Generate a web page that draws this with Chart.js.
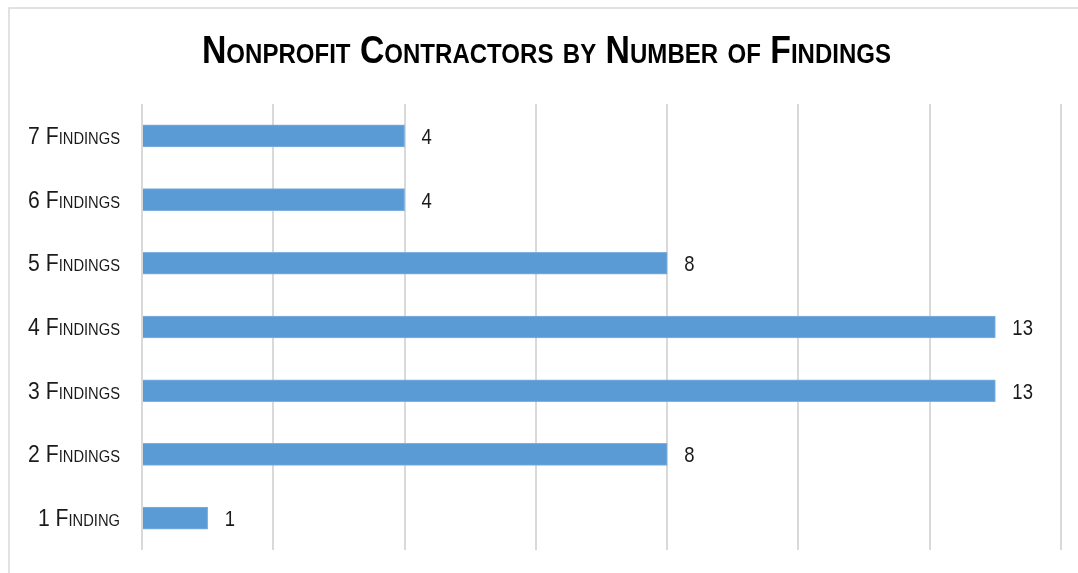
<!DOCTYPE html>
<html>
<head>
<meta charset="utf-8">
<script src="https://cdn.jsdelivr.net/npm/chart.js@4"></script>
<style>
  html, body { margin: 0; padding: 0; background: #fff; }
  #wrap { width: 1078px; height: 573px; }
</style>
</head>
<body>
<div id="wrap"><canvas id="myChart"></canvas></div>
<script>
const categories = ['7 Findings', '6 Findings', '5 Findings', '4 Findings', '3 Findings', '2 Findings', '1 Finding'];
const contractors = [4, 4, 8, 13, 13, 8, 1];
const xTicks = [0, 2, 4, 6, 8, 10, 12, 14];
const chartTitle = 'Nonprofit Contractors by Number of Findings';

const family = "'Liberation Sans', Arial, sans-serif";

// no narrow font installed, so squeeze text horizontally
function narrowText(c, text, x, y, align, font, squeeze) {
  c.save();
  c.font = font;
  c.textAlign = align;
  c.textBaseline = 'alphabetic';
  c.translate(x, y);
  c.scale(squeeze, 1);
  c.fillText(text, 0, 0);
  c.restore();
}

// light grey frame around the chart
const frame = {
  id: 'frame',
  beforeDraw(chart) {
    const c = chart.ctx;
    c.save();
    c.strokeStyle = '#d9d9d9';
    c.lineWidth = 1.5;
    c.strokeRect(9, 8, chart.width + 20, chart.height + 20);
    c.restore();
  }
};

// title, category labels and bar values
const texts = {
  id: 'texts',
  afterDraw(chart) {
    const c = chart.ctx;
    c.fillStyle = '#000';
    narrowText(c, chartTitle, (chart.chartArea.left + chart.chartArea.right) / 2 - 55, 63, 'center',
      'small-caps bold 38px ' + family, 0.89);

    const yScale = chart.scales.y;
    c.fillStyle = '#1a1a1a';
    yScale.ticks.forEach((t, i) => {
      const y = yScale.getPixelForTick(i);
      narrowText(c, chart.data.labels[t.value], yScale.right - 22, y + 8, 'right',
        'small-caps normal 23px ' + family, 0.92);
    });

    const meta = chart.getDatasetMeta(0);
    meta.data.forEach((bar, i) => {
      narrowText(c, String(contractors[i]), bar.x + 17, bar.y + 8, 'left', 'normal 22px ' + family, 0.84);
    });
  }
};

const ctx = document.getElementById('myChart');

new Chart(ctx, {
  type: 'bar',
  data: {
    labels: categories,
    datasets: [{
      data: contractors,
      backgroundColor: '#5b9bd5',
      borderColor: '#7fb0de',
      borderWidth: 1,
      barThickness: 22
    }]
  },
  options: {
    indexAxis: 'y',
    responsive: true,
    maintainAspectRatio: false,
    animation: false,
    layout: { padding: { top: 104, right: 17, bottom: 23, left: 0 } },
    plugins: {
      legend: { display: false },
      tooltip: { enabled: false },
      title: { display: false }
    },
    scales: {
      x: {
        min: xTicks[0],
        max: xTicks[xTicks.length - 1],
        afterBuildTicks(scale) {
          scale.ticks = xTicks.map(v => ({ value: v }));
        },
        ticks: { display: false },
        grid: { color: '#d9d9d9', lineWidth: 2, drawTicks: false },
        border: { display: false }
      },
      y: {
        afterFit(scale) { scale.width = 142; },
        ticks: { display: false },
        grid: { display: false, drawTicks: false },
        border: { display: false }
      }
    }
  },
  plugins: [frame, texts]
});
</script>
</body>
</html>
